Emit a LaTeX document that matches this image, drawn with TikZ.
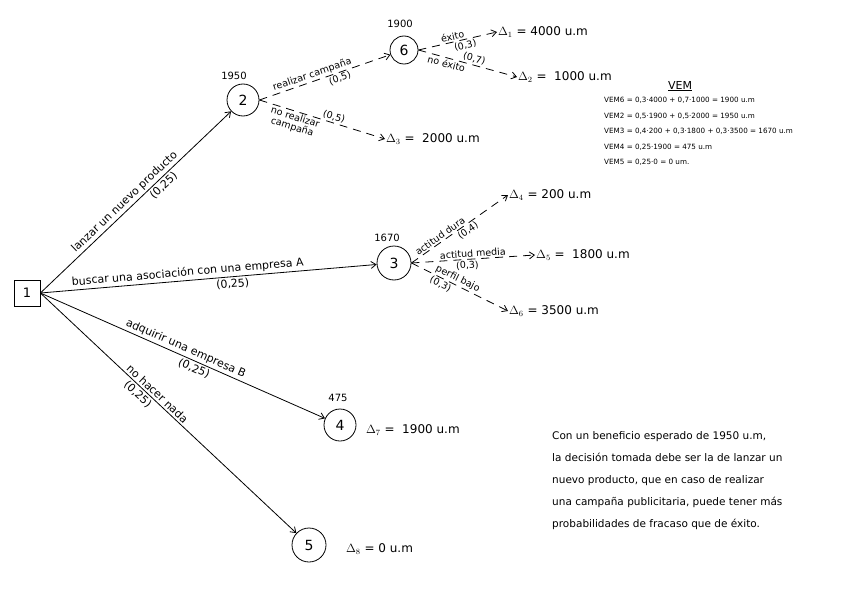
\documentclass[tikz,border=0pt]{standalone}
\usepackage{fontspec}
\setmainfont{DejaVu Sans}
\usetikzlibrary{arrows.meta}
\tikzset{
  decision/.style={draw, thick, minimum size=26pt, inner sep=0pt, font=\fontsize{13}{13}\selectfont},
  chance/.style={draw, thick, circle, minimum size=32pt, inner sep=0pt, font=\fontsize{14}{14}\selectfont},
  payoff/.style={anchor=west, inner sep=1pt, font=\fontsize{12}{14}\selectfont},
  vemval/.style={font=\fontsize{10}{11}\selectfont},
  branch/.style={thick, -{Straight Barb[length=5pt,width=7pt]}},
  subbranch/.style={branch, dashed, dash pattern=on 8pt off 6pt},
  lbl/.style={sloped, font=\fontsize{11}{12}\selectfont, inner sep=2pt},
  slbl/.style={sloped, font=\fontsize{9.5}{10}\selectfont, inner sep=1.5pt, align=center}
}
\begin{document}
\begin{tikzpicture}[x=1pt, y=-1pt]
    \useasboundingbox (0,0) rectangle (848,599);
    % Decision and chance nodes
    \node[decision] (n1) at (27,293) {1};
    \node[chance] (n2) at (243,100) {2};
    \node[chance, minimum size=28pt] (n6) at (404,50) {6};
    \node[chance, minimum size=34pt] (n3) at (394,263) {3};
    \node[chance] (n4) at (340,425) {4};
    \node[chance, minimum size=34pt] (n5) at (309,545) {5};
    % Expected values above nodes
    \node[vemval] (v2) at (234,76) {1950};
    \node[vemval] (v6) at (400,24) {1900};
    \node[vemval] (v3) at (387,238) {1670};
    \node[vemval] (v4) at (338,398) {475};
    % Payoffs
    \node[payoff] (d1) at (497,32) {$\Delta_1$ = 4000 u.m};
    \node[payoff] (d2) at (517,77) {$\Delta_2$ = \ 1000 u.m};
    \node[payoff] (d3) at (385,139) {$\Delta_3$ = \ 2000 u.m};
    \node[payoff] (d4) at (508,195) {$\Delta_4$ = 200 u.m};
    \node[payoff] (d5) at (535,255) {$\Delta_5$ = \ 1800 u.m};
    \node[payoff] (d6) at (508,311) {$\Delta_6$ = 3500 u.m};
    \node[payoff] (d7) at (365,430) {$\Delta_7$ = \ 1900 u.m};
    \node[payoff] (d8) at (345,549) {$\Delta_8$ = 0 u.m};
    % Main decisions
    \draw[branch] (n1.east) -- (n2)
        node[lbl, above, pos=0.47] {lanzar un nuevo producto}
        node[lbl, below, pos=0.62] {(0,25)};
    \draw[branch] (n1.east) -- (n3)
        node[lbl, above, pos=0.44] {buscar una asociación con una empresa A}
        node[lbl, below, pos=0.57] {(0,25)};
    \draw[branch] (n1.east) -- (n4)
        node[lbl, above, pos=0.5] {adquirir una empresa B}
        node[lbl, below, pos=0.55] {(0,25)};
    \draw[branch] (n1.east) -- (n5)
        node[lbl, above, pos=0.44] {no hacer nada}
        node[lbl, below, pos=0.4] {(0,25)};
    % Node 2 branches
    \draw[subbranch] (n2.east) -- (n6)
        node[slbl, above, pos=0.42] {realizar campaña}
        node[slbl, below, pos=0.6] {(0,5)};
    \draw[subbranch] (n2.east) -- (d3.west)
        node[slbl, above, pos=0.58] {(0,5)}
        node[slbl, below, pos=0.3] {no realizar\\campaña};
    % Node 6 branches
    \draw[subbranch] (n6.east) -- (d1.west)
        node[slbl, above, pos=0.45] {éxito}
        node[slbl, below, pos=0.58] {(0,3)};
    \draw[subbranch] (n6.east) -- (d2.west)
        node[slbl, above, pos=0.55] {(0,7)}
        node[slbl, below, pos=0.3] {no éxito};
    % Node 3 branches
    \draw[subbranch] (n3.east) -- (d4.west)
        node[slbl, above, pos=0.33] {actitud dura}
        node[slbl, below, pos=0.55] {(0,4)};
    \draw[subbranch] (n3.east) -- (d5.west)
        node[slbl, above, pos=0.5] {actitud media}
        node[slbl, below, pos=0.45] {(0,3)};
    \draw[subbranch] (n3.east) -- (d6.west)
        node[slbl, above, pos=0.45] {perfil bajo}
        node[slbl, below, pos=0.33] {(0,3)};
    % VEM summary
    \node[font=\fontsize{11}{12}\selectfont] (vem) at (680,86) {\underline{VEM}};
    \node[anchor=north west, align=left, inner sep=0pt, font=\fontsize{7.2}{15.5}\selectfont] (vemlist) at (604,97) {%
        VEM6 = 0,3·4000 + 0,7·1000 = 1900 u.m\\
        VEM2 = 0,5·1900 + 0,5·2000 = 1950 u.m\\
        VEM3 = 0,4·200 + 0,3·1800 + 0,3·3500 = 1670 u.m\\
        VEM4 = 0,25·1900 = 475 u.m\\
        VEM5 = 0,25·0 = 0 um.};
    % Conclusion
    \node[anchor=north west, align=left, inner sep=0pt, font=\fontsize{10.5}{22}\selectfont] (concl) at (552,431) {%
        Con un beneficio esperado de 1950 u.m,\\
        la decisión tomada debe ser la de lanzar un\\
        nuevo producto, que en caso de realizar\\
        una campaña publicitaria, puede tener más\\
        probabilidades de fracaso que de éxito.};
\end{tikzpicture}
\end{document}
